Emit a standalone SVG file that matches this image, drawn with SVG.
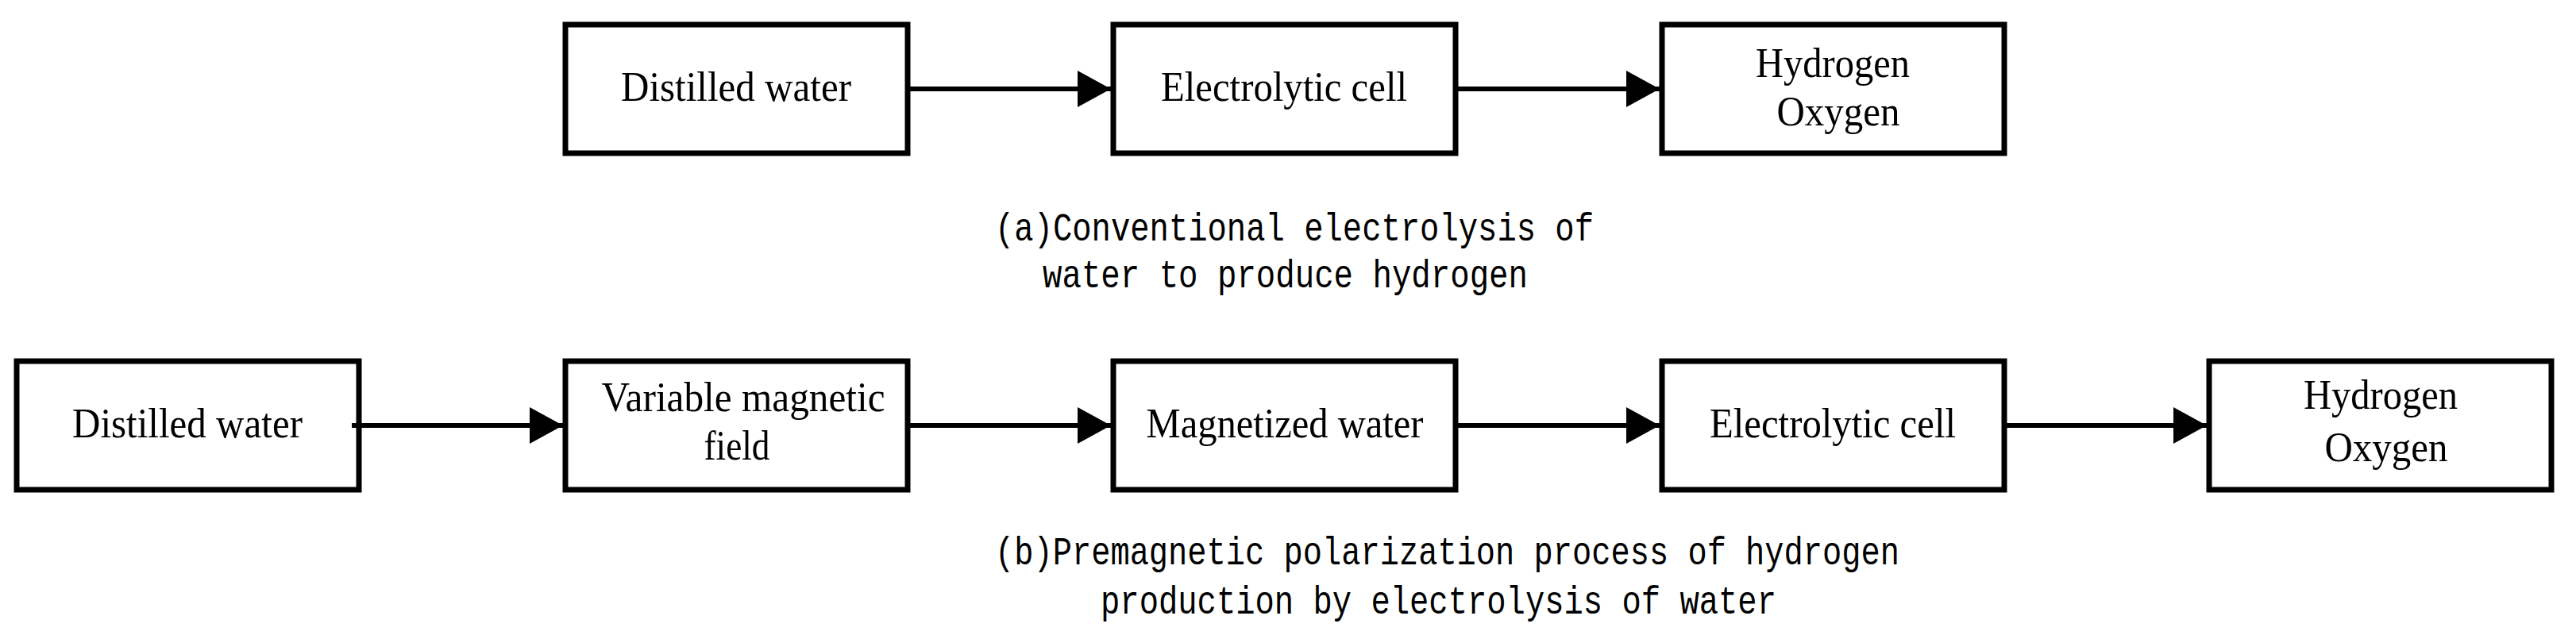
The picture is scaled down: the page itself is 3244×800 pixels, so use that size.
<svg xmlns="http://www.w3.org/2000/svg" width="3244" height="800" viewBox="0 0 3244 800">
<style>
.b{fill:#fff;stroke:#000;stroke-width:7}
.t{font-family:"Liberation Serif",serif;font-size:52px;text-anchor:middle;fill:#000}
.c{font-family:"Liberation Mono",monospace;font-size:50px;fill:#000}
.l{stroke:#000;stroke-width:6;fill:none}
</style>
<defs><marker id="a" markerUnits="userSpaceOnUse" markerWidth="42" markerHeight="46" refX="42" refY="23" orient="auto"><path d="M0,0L42,23L0,46Z" fill="#000"/></marker></defs>
<rect width="3244" height="800" fill="#fff"/>
<g id="a1"><rect class="b" x="712" y="31" width="431" height="162"/><text class="t" x="927" y="127" textLength="290" lengthAdjust="spacingAndGlyphs">Distilled water</text></g>
<g id="a2"><rect class="b" x="1402" y="31" width="431" height="162"/><text class="t" x="1617" y="127" textLength="310" lengthAdjust="spacingAndGlyphs">Electrolytic cell</text></g>
<g id="a3"><rect class="b" x="2093" y="31" width="431" height="162"/><text class="t" x="2308" y="97" textLength="194" lengthAdjust="spacingAndGlyphs">Hydrogen</text><text class="t" x="2315" y="158" textLength="155" lengthAdjust="spacingAndGlyphs">Oxygen</text></g>
<g id="b1"><rect class="b" x="21" y="455" width="431" height="162"/><text class="t" x="236" y="551" textLength="290" lengthAdjust="spacingAndGlyphs">Distilled water</text></g>
<g id="b2"><rect class="b" x="712" y="455" width="431" height="162"/><text class="t" x="936" y="518" textLength="357" lengthAdjust="spacingAndGlyphs">Variable magnetic</text><text class="t" x="928" y="579" textLength="83" lengthAdjust="spacingAndGlyphs">field</text></g>
<g id="b3"><rect class="b" x="1402" y="455" width="431" height="162"/><text class="t" x="1618" y="551" textLength="349" lengthAdjust="spacingAndGlyphs">Magnetized water</text></g>
<g id="b4"><rect class="b" x="2093" y="455" width="431" height="162"/><text class="t" x="2308" y="551" textLength="310" lengthAdjust="spacingAndGlyphs">Electrolytic cell</text></g>
<g id="b5"><rect class="b" x="2782" y="455" width="431" height="162"/><text class="t" x="2998" y="515" textLength="194" lengthAdjust="spacingAndGlyphs">Hydrogen</text><text class="t" x="3005" y="581" textLength="155" lengthAdjust="spacingAndGlyphs">Oxygen</text></g>
<g id="connectors">
<line class="l" x1="1146" y1="112" x2="1399" y2="112" marker-end="url(#a)"/>
<line class="l" x1="1836" y1="112" x2="2090" y2="112" marker-end="url(#a)"/>
<line class="l" x1="443" y1="536" x2="709" y2="536" marker-end="url(#a)"/>
<line class="l" x1="1146" y1="536" x2="1399" y2="536" marker-end="url(#a)"/>
<line class="l" x1="1836" y1="536" x2="2090" y2="536" marker-end="url(#a)"/>
<line class="l" x1="2527" y1="536" x2="2779" y2="536" marker-end="url(#a)"/>
</g>
<text class="c" x="1253" y="303" textLength="754" lengthAdjust="spacingAndGlyphs">(a)Conventional electrolysis of</text>
<text class="c" x="1313" y="362" textLength="611" lengthAdjust="spacingAndGlyphs">water to produce hydrogen</text>
<text class="c" x="1253" y="711" textLength="1139" lengthAdjust="spacingAndGlyphs">(b)Premagnetic polarization process of hydrogen</text>
<text class="c" x="1386" y="773" textLength="851" lengthAdjust="spacingAndGlyphs">production by electrolysis of water</text>
</svg>
